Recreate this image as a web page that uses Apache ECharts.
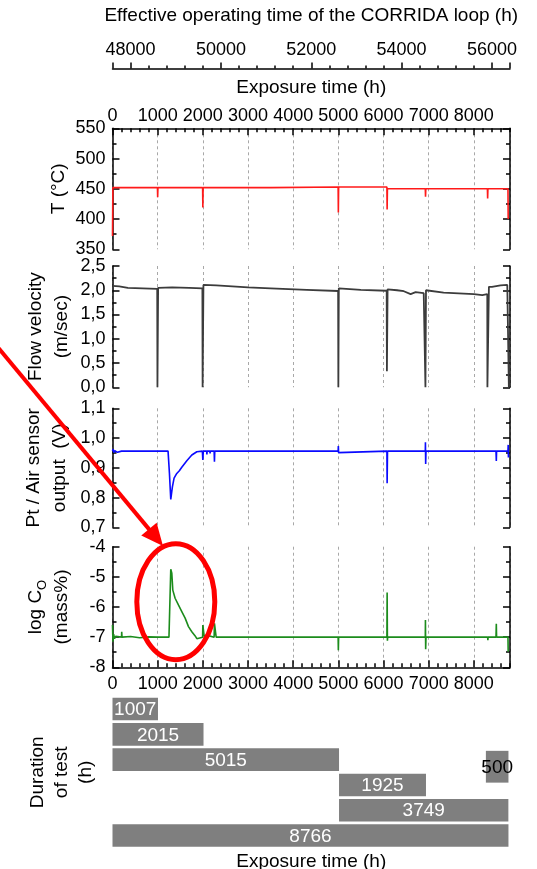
<!DOCTYPE html>
<html>
<head>
<meta charset="utf-8">
<script src="https://cdn.jsdelivr.net/npm/echarts@6/dist/echarts.min.js"></script>
<style>
html, body { margin: 0; padding: 0; background: #fff; }
#chart { width: 537px; height: 869px; }
</style>
</head>
<body>
<div id="chart"></div>
<script>
// valeurs
const effTickLabels = [48000, 50000, 52000, 54000, 56000];
const effMajorTicks = [47600, 48000, 50000, 52000, 54000, 56000, 56400];

const tempPoints = [
    [0, 372], [8, 452], [995, 452], [1000, 436], [1006, 452], [1995, 452], [2000, 419], [2006, 452],
    [3500, 452], [4995, 453], [5000, 411], [5006, 453], [6075, 453], [6080, 416], [6086, 450],
    [6925, 450], [6930, 437], [6936, 450], [8300, 450], [8305, 434], [8311, 450], [8755, 450], [8760, 400]
];

const flowPoints = [
    [0, 2.09], [150, 2.08], [340, 2.05], [990, 2.03], [995, 0], [1005, 0], [1010, 2.05], [1320, 2.06],
    [1700, 2.05], [1990, 2.04], [1995, 0], [2008, 0], [2013, 2.11], [2300, 2.1], [3000, 2.06], [3500, 2.04],
    [4300, 2.01], [4995, 1.985], [5000, 0], [5005, 0], [5010, 2.04], [5050, 2.02], [5500, 2.01],
    [6070, 1.99], [6075, 0.33], [6085, 0.33], [6090, 2.02], [6300, 2.0], [6450, 1.98], [6600, 1.92],
    [6710, 1.96], [6890, 1.94], [6925, 1.94], [6928, 0], [6935, 0], [6940, 2.0], [7330, 1.95],
    [8000, 1.92], [8185, 1.9], [8215, 1.93], [8297, 1.92], [8300, 0], [8330, 0], [8333, 2.07],
    [8400, 2.07], [8420, 2.11], [8590, 2.1], [8740, 2.11], [8770, 2.14], [8775, 0]
];

const sensorPoints = [
    [0, 0.956], [15, 0.963], [30, 0.951], [50, 0.958], [80, 0.962], [110, 0.952], [140, 0.957], [200, 0.956],
    [1230, 0.956], [1260, 0.883], [1290, 0.794], [1326, 0.836], [1363, 0.865], [1423, 0.881], [1480, 0.89],
    [1534, 0.902], [1645, 0.924], [1756, 0.943], [1867, 0.954], [1990, 0.956], [2000, 0.926], [2010, 0.956],
    [2085, 0.956], [2090, 0.945], [2095, 0.956], [2155, 0.956], [2160, 0.948], [2165, 0.956],
    [2250, 0.956], [2257, 0.92], [2264, 0.956], [4115, 0.956], [4120, 0.951], [4125, 0.956],
    [4745, 0.956], [4750, 0.952], [4755, 0.956], [4995, 0.956], [5000, 0.973], [5005, 0.951], [5010, 0.956],
    [6075, 0.956], [6080, 0.848], [6088, 0.956], [6680, 0.956], [6685, 0.96], [6690, 0.956], [6925, 0.956],
    [6928, 0.986], [6933, 0.913], [6940, 0.956], [7860, 0.956], [7866, 0.96], [7870, 0.956], [8128, 0.956],
    [8133, 0.952], [8137, 0.956], [8490, 0.956], [8497, 0.923], [8503, 0.956], [8755, 0.956], [8760, 0.977],
    [8765, 0.935], [8775, 0.94]
];

const oxygenPoints = [
    [0, -6.6], [10, -7.15], [25, -6.9], [45, -7.05], [70, -6.97], [100, -7.02], [200, -7.0], [204, -6.82],
    [210, -7.0], [400, -6.98], [600, -7.02], [800, -6.99], [1000, -7.0], [1250, -7.0], [1290, -4.75],
    [1313, -4.88], [1335, -5.44], [1386, -5.71], [1459, -5.93], [1534, -6.15], [1608, -6.37], [1682, -6.65],
    [1756, -6.82], [1830, -6.96], [1867, -7.05], [1995, -7.0], [2000, -6.6], [2030, -6.97], [2120, -6.95],
    [2250, -7.0], [2257, -6.54], [2295, -7.0], [2640, -7.0], [2643, -6.95], [2650, -7.0], [2972, -7.0],
    [2976, -6.97], [2980, -7.0], [4115, -7.0], [4120, -6.95], [4125, -7.0], [4745, -7.0], [4750, -6.95],
    [4755, -7.0], [4995, -7.0], [5000, -7.43], [5006, -7.0], [6075, -7.0], [6080, -5.52], [6086, -7.12],
    [6092, -7.0], [6680, -7.0], [6685, -7.05], [6690, -7.0], [6925, -7.0], [6928, -6.43], [6933, -7.4],
    [6940, -7.0], [7860, -7.0], [7866, -7.05], [7870, -7.0], [8305, -7.0], [8310, -7.1], [8315, -7.0],
    [8490, -7.0], [8497, -6.56], [8503, -7.0], [8755, -7.0], [8760, -7.48]
];

// durees des essais (h)
const testStart = [0, 0, 0, 5015, 5015, 0];
const testHours = [1007, 2015, 5015, 1925, 3749, 8766];
const testRow = [0, 1, 2, 3, 4, 5];
const shortTestStart = [8266];
const shortTestHours = [500];
const shortTestRow = [2.28];

const FONT = '"Liberation Sans", Arial, sans-serif';
const black = { color: '#000', width: 1.5 };
const tickFont = { color: '#000', fontSize: 18, fontFamily: FONT };
const nameFont = { color: '#000', fontSize: 19, lineHeight: 26, fontFamily: FONT };
const gridDash = { show: true, lineStyle: { color: '#a8a8a8', width: 1, type: [3, 3] } };
const comma = function (v) { return v.toFixed(1).replace('.', ','); };
const plain = function (v) { return String(v); };

function timeAxis(gridIndex, opts) {
    return Object.assign({
        gridIndex: gridIndex, type: 'value', min: 0, max: 8800, interval: 1000,
        axisLine: { show: false, onZero: false }, axisTick: { show: false }, axisLabel: { show: false },
        splitLine: { show: false }, nameMoveOverlap: false
    }, opts);
}

function leftRight(gridIndex, min, max, interval, name, nameGap, formatter) {
    let base = {
        gridIndex: gridIndex, type: 'value', min: min, max: max, interval: interval,
        axisLine: { show: true, onZero: false, lineStyle: black },
        axisTick: { show: true, inside: true, length: 7, lineStyle: black },
        minorTick: { show: true, splitNumber: 2, length: 4, lineStyle: black },
        splitLine: { show: false }
    };
    let left = Object.assign({}, base, {
        position: 'left',
        axisLabel: Object.assign({ margin: 7, formatter: formatter || plain }, tickFont),
        name: name, nameLocation: 'middle', nameGap: nameGap, nameTextStyle: nameFont, nameMoveOverlap: false
    });
    let right = Object.assign({}, base, { position: 'right', axisLabel: { show: false } });
    return [left, right];
}

function barRenderer(thickness, textColor) {
    return function (params, api) {
        let start = api.value(0), hours = api.value(1), row = api.value(2);
        let a = api.coord([start, row]);
        let b = api.coord([start + hours, row]);
        return {
            type: 'group',
            children: [
                { type: 'rect', shape: { x: a[0], y: a[1] - thickness / 2, width: b[0] - a[0], height: thickness },
                  style: { fill: '#7f7f7f' } },
                { type: 'text', style: { text: String(hours), x: (a[0] + b[0]) / 2, y: a[1] + 1, align: 'center',
                  verticalAlign: 'middle', fill: textColor, fontSize: 19, fontFamily: FONT } }
            ]
        };
    };
}

// fleche + ellipse rouges
const arrowStart = [-4, 345], arrowTip = [163, 546];
let dx = arrowTip[0] - arrowStart[0], dy = arrowTip[1] - arrowStart[1];
let len = Math.sqrt(dx * dx + dy * dy);
let ux = dx / len, uy = dy / len;
let headLen = 22, headHalf = 10;
let baseX = arrowTip[0] - ux * headLen, baseY = arrowTip[1] - uy * headLen;

const plotLeft = 112.5, plotWidth = 397.5;

function panel(top, height) {
    return { left: plotLeft, width: plotWidth, top: top, height: height, outerBoundsMode: 'none', containLabel: false };
}

let yAxes = [].concat(
    leftRight(0, 350, 550, 50, 'T (°C)', 41),
    leftRight(1, 0, 2.5, 0.5, 'Flow velocity\n(m/sec)', 38, comma),
    leftRight(2, 0.7, 1.1, 0.1, 'Pt / Air sensor\noutput  (V)', 40, comma),
    leftRight(3, -8, -4, 1, 'log C{sub|O}\n(mass%)', 38)
);
yAxes[6].nameTextStyle = Object.assign({}, nameFont, {
    rich: { sub: { fontSize: 13, lineHeight: 14, verticalAlign: 'bottom', fontFamily: FONT, color: '#000' } }
});
yAxes.push({ gridIndex: 4, type: 'value', show: false });
yAxes.push({
    gridIndex: 5, type: 'value', min: -0.5, max: 5.5, inverse: true,
    axisLine: { show: false, onZero: false }, axisTick: { show: false }, axisLabel: { show: false },
    splitLine: { show: false }, nameMoveOverlap: false,
    name: 'Duration\nof test\n(h)', nameLocation: 'middle', nameGap: 15,
    nameTextStyle: Object.assign({}, nameFont, { lineHeight: 24 })
});

let option = {
    animation: false,
    backgroundColor: '#fff',
    textStyle: { fontFamily: FONT },
    grid: [
        panel(128.3, 121),
        panel(266, 121.3),
        panel(408.3, 119),
        panel(546.7, 120.6),
        panel(68.5, 20),
        panel(696.4, 151.8)
    ],
    xAxis: [
        timeAxis(0, {
            position: 'top', axisLine: { show: true, onZero: false, lineStyle: black },
            axisTick: { show: true, inside: true, length: 7, lineStyle: black },
            axisLabel: Object.assign({ show: true, margin: 3, showMaxLabel: false, formatter: plain }, tickFont),
            splitLine: gridDash,
            name: 'Exposure time (h)', nameLocation: 'middle', nameGap: 28, nameTextStyle: nameFont
        }),
        timeAxis(0, { position: 'top', interval: 200, axisTick: { show: true, inside: true, length: 4, lineStyle: black } }),
        timeAxis(1, { splitLine: gridDash }),
        timeAxis(2, { splitLine: gridDash }),
        timeAxis(3, {
            position: 'bottom', axisLine: { show: true, onZero: false, lineStyle: black },
            axisTick: { show: true, inside: true, length: 7, lineStyle: black },
            axisLabel: Object.assign({ show: true, margin: 7.5, showMaxLabel: false, formatter: plain }, tickFont),
            splitLine: gridDash
        }),
        timeAxis(3, { position: 'bottom', interval: 200, axisTick: { show: true, inside: true, length: 4, lineStyle: black } }),
        {
            gridIndex: 4, type: 'value', position: 'top', min: 47600, max: 56400,
            axisLine: { show: true, onZero: false, lineStyle: black },
            axisTick: { show: true, length: 6, lineStyle: black, customValues: effMajorTicks },
            axisLabel: Object.assign({ show: true, margin: 9, customValues: effTickLabels, formatter: plain }, tickFont),
            splitLine: { show: false }, nameMoveOverlap: false,
            name: 'Effective operating time of the CORRIDA loop (h)', nameLocation: 'middle', nameGap: 40,
            nameTextStyle: nameFont
        },
        {
            gridIndex: 4, type: 'value', position: 'top', min: 47600, max: 56400, interval: 400,
            axisLine: { show: false, onZero: false }, axisLabel: { show: false }, splitLine: { show: false },
            axisTick: { show: true, length: 3, lineStyle: black }
        },
        timeAxis(5, {
            position: 'bottom', name: 'Exposure time (h)', nameLocation: 'middle', nameGap: 0.5,
            nameTextStyle: nameFont
        })
    ],
    yAxis: yAxes,
    series: [
        { type: 'line', xAxisIndex: 0, yAxisIndex: 0, data: tempPoints, showSymbol: false,
          lineStyle: { color: '#ff1a1a', width: 1.6 }, itemStyle: { color: '#ff1a1a' } },
        { type: 'line', xAxisIndex: 2, yAxisIndex: 2, data: flowPoints, showSymbol: false,
          lineStyle: { color: '#3c3c3c', width: 1.8 }, itemStyle: { color: '#3c3c3c' } },
        { type: 'line', xAxisIndex: 3, yAxisIndex: 4, data: sensorPoints, showSymbol: false,
          lineStyle: { color: '#0a0aff', width: 1.6 }, itemStyle: { color: '#0a0aff' } },
        { type: 'line', xAxisIndex: 4, yAxisIndex: 6, data: oxygenPoints, showSymbol: false,
          lineStyle: { color: '#1c8c1c', width: 1.6 }, itemStyle: { color: '#1c8c1c' } },
        { type: 'custom', xAxisIndex: 8, yAxisIndex: 9, renderItem: barRenderer(22.6, '#fff'),
          data: testStart.map(function (s, i) { return [s, testHours[i], testRow[i]]; }) },
        { type: 'custom', xAxisIndex: 8, yAxisIndex: 9, renderItem: barRenderer(31.8, '#000'),
          data: shortTestStart.map(function (s, i) { return [s, shortTestHours[i], shortTestRow[i]]; }) }
    ],
    graphic: [
        { type: 'line', z: 100, shape: { x1: arrowStart[0], y1: arrowStart[1], x2: baseX + ux * 2, y2: baseY + uy * 2 },
          style: { stroke: '#ff0000', lineWidth: 4 } },
        { type: 'polygon', z: 100, shape: { points: [
            arrowTip,
            [baseX - uy * headHalf, baseY + ux * headHalf],
            [baseX + uy * headHalf, baseY - ux * headHalf]
          ] }, style: { fill: '#ff0000' } },
        { type: 'ellipse', z: 100, shape: { cx: 175.8, cy: 601.7, rx: 39, ry: 58 },
          style: { fill: 'none', stroke: '#ff0000', lineWidth: 5 } }
    ]
};

let chart = echarts.init(document.getElementById('chart'));
chart.setOption(option);
</script>
</body>
</html>
